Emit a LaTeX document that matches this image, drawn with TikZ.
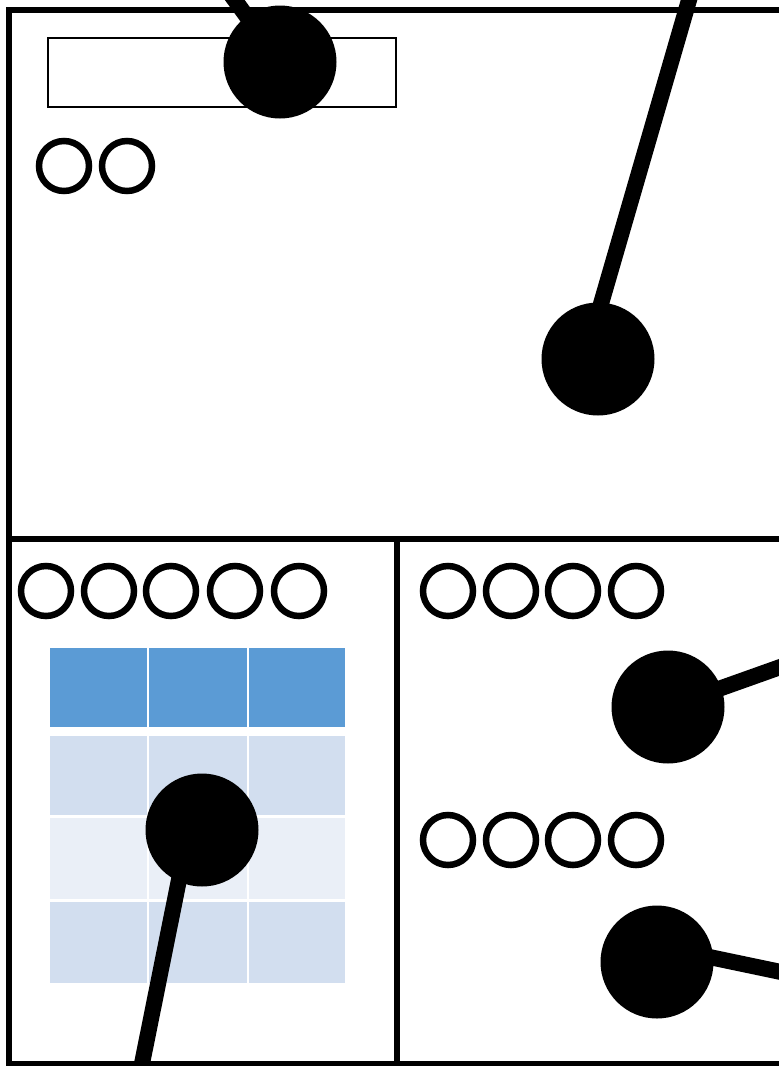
\documentclass[tikz,border=0pt]{standalone}
\usetikzlibrary{calc}
\definecolor{hdrblue}{HTML}{5B9BD5}
\definecolor{rowdark}{HTML}{D2DEEF}
\definecolor{rowlight}{HTML}{EAEFF7}
\tikzset{
  frameline/.style={line width=6.5pt, black},
  ring/.style={circle, draw=black, line width=6.5pt, minimum size=50pt, inner sep=0pt},
  pin/.style={circle, fill=black, minimum size=113pt, inner sep=0pt},
  pinline/.style={line width=16pt, black},
  cellh/.style={fill=hdrblue},
  celld/.style={fill=rowdark},
  celll/.style={fill=rowlight},
}
\begin{document}
\begin{tikzpicture}[x=1pt,y=-1pt]
\useasboundingbox (0,0) rectangle (779,1066);
\clip (0,0) rectangle (779,1066);
\fill[white] (0,0) rectangle (779,1066);
% frame
\draw[frameline] (9,10) rectangle (820,1064);
\draw[frameline] (9,539) -- (820,539);
\draw[frameline] (397,539) -- (397,1064);
% thin bar
\draw[line width=2.4pt] (48,38) rectangle (396,107);
% top rings
\node[ring] (t1) at (64,166) {};
\node[ring] (t2) at (127,166) {};
% left rings
\foreach \i/\x in {1/46,2/109,3/171,4/235,5/299}
  \node[ring] (l\i) at (\x,591) {};
% right rings
\foreach \i/\x in {1/448,2/511,3/573,4/636} {
  \node[ring] (ra\i) at (\x,591) {};
  \node[ring] (rb\i) at (\x,840) {};
}
% table
\foreach \xa/\xb in {50/146.5,149/246.5,249/345} {
  \fill[cellh] (\xa,648) rectangle (\xb,727);
  \fill[celld] (\xa,736) rectangle (\xb,815);
  \fill[celll] (\xa,818) rectangle (\xb,899);
  \fill[celld] (\xa,902) rectangle (\xb,983);
}
% pins
\coordinate (e1) at (226,-12);
\coordinate (e2) at (692.5,-12);
\coordinate (e3) at (800,660);
\coordinate (e4) at (800,976);
\coordinate (e5) at (138.7,1080);
\node[pin] (p1) at (280,62) {};
\node[pin] (p2) at (598,359) {};
\node[pin] (p3) at (668,707) {};
\node[pin] (p4) at (657,962) {};
\node[pin] (p5) at (202,830) {};
\draw[pinline] (p1.center) -- (e1);
\draw[pinline] ($(p2.center)+(-13,0)$) -- (e2);
\draw[pinline] (p3.center) -- (e3);
\draw[pinline] ($(p4.center)+(0,-16)$) -- (e4);
\draw[pinline] ($(p5.center)+(-13,0)$) -- (e5);
\end{tikzpicture}
\end{document}
